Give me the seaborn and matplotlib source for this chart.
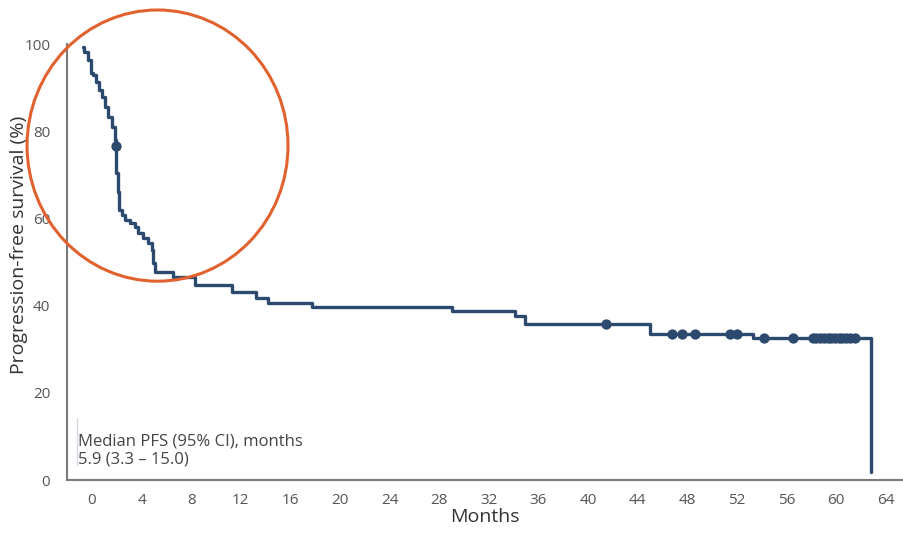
import matplotlib
matplotlib.use("Agg")
import matplotlib.pyplot as plt
from matplotlib.patches import Ellipse
import seaborn as sns

# Kaplan-Meier step curve (months, % progression-free)
pfs_months = [-0.73, -0.65, -0.32, -0.08, 0.08, 0.32, 0.56, 0.81, 1.05, 1.29,
              1.61, 1.85, 1.96, 2.10, 2.18, 2.40, 2.66, 3.06, 3.47, 3.71,
              4.11, 4.52, 4.84, 4.92, 5.08, 6.53, 8.30, 11.3, 13.2, 14.2,
              17.7, 29.0, 34.1, 34.9, 45.0, 53.3, 62.8]
pfs_pct = [99.3, 98.2, 96.3, 93.3, 92.9, 91.3, 89.4, 87.8, 85.6, 83.3,
           81.0, 78.0, 70.4, 66.0, 61.9, 60.8, 59.6, 58.9, 58.0, 56.7,
           55.5, 54.4, 52.8, 49.8, 47.7, 46.6, 44.7, 43.2, 41.7, 40.6,
           39.6, 38.8, 37.7, 35.8, 33.6, 32.5, 1.8]

# censored observations
censor_months = [1.96, 41.45, 46.8, 47.6, 48.6, 51.4, 52.0, 54.2, 56.5,
                 58.1, 58.4, 58.7, 59.0, 59.3, 59.6, 59.9, 60.2, 60.5,
                 60.8, 61.1, 61.5]
censor_pct = [76.6, 35.8, 33.6, 33.6, 33.6, 33.6, 33.6, 32.5, 32.5,
              32.5, 32.5, 32.5, 32.5, 32.5, 32.5, 32.5, 32.5, 32.5,
              32.5, 32.5, 32.5]

x_ticks = list(range(0, 65, 4))
y_ticks = [0, 20, 40, 60, 80, 100]

NAVY = "#2c4a6e"
GREY = "#7a7a7a"

sns.set_style("white")
plt.rcParams["font.family"] = ["Open Sans", "DejaVu Sans"]

fig = plt.figure(figsize=(9.04, 5.34), dpi=100)
ax = fig.add_axes([0.0741, 0.1011, 0.925, 0.8165])

sns.lineplot(x=pfs_months, y=pfs_pct, drawstyle="steps-post", sort=False,
             estimator=None, color=NAVY, linewidth=2.4, ax=ax)
sns.scatterplot(x=censor_months, y=censor_pct, s=55, color=NAVY,
                edgecolor=NAVY, linewidth=0, zorder=3, ax=ax)

# highlight of the early drop
ax.add_patch(Ellipse((5.28, 76.7), width=2 * 10.52, height=2 * 31.1,
                     fill=False, edgecolor="#e2622f", linewidth=2.2,
                     clip_on=False, zorder=4))

ax.plot([-1.2, -1.2], [3.4, 14.2], color="#d3d9e2", linewidth=1)
ax.text(-1.15, 2.9, "Median PFS (95% CI), months\n5.9 (3.3 \u2013 15.0)",
        fontsize=12, color="#444444", ha="left", va="bottom",
        linespacing=1.15)

ax.set_xlim(-2.02, 65.4)
ax.set_ylim(0, 100)
ax.set_xticks(x_ticks)
ax.set_yticks(y_ticks)
ax.tick_params(axis="both", colors=GREY, labelcolor="#555555", labelsize=11)
ax.tick_params(axis="x", length=3, width=1.2, pad=6)
ax.tick_params(axis="y", length=5, width=1.2, pad=7)

for side in ["top", "right"]:
    ax.spines[side].set_visible(False)
for side in ["left", "bottom"]:
    ax.spines[side].set_color(GREY)
    ax.spines[side].set_linewidth(1.5)

ax.set_xlabel("Months", fontsize=14, color="#333333", labelpad=0)
ax.set_ylabel("Progression-free survival (%)", fontsize=14,
              color="#333333")
ax.yaxis.set_label_coords(-0.047, 0.54)

fig.savefig("out.png", dpi=100)
plt.close(fig)
